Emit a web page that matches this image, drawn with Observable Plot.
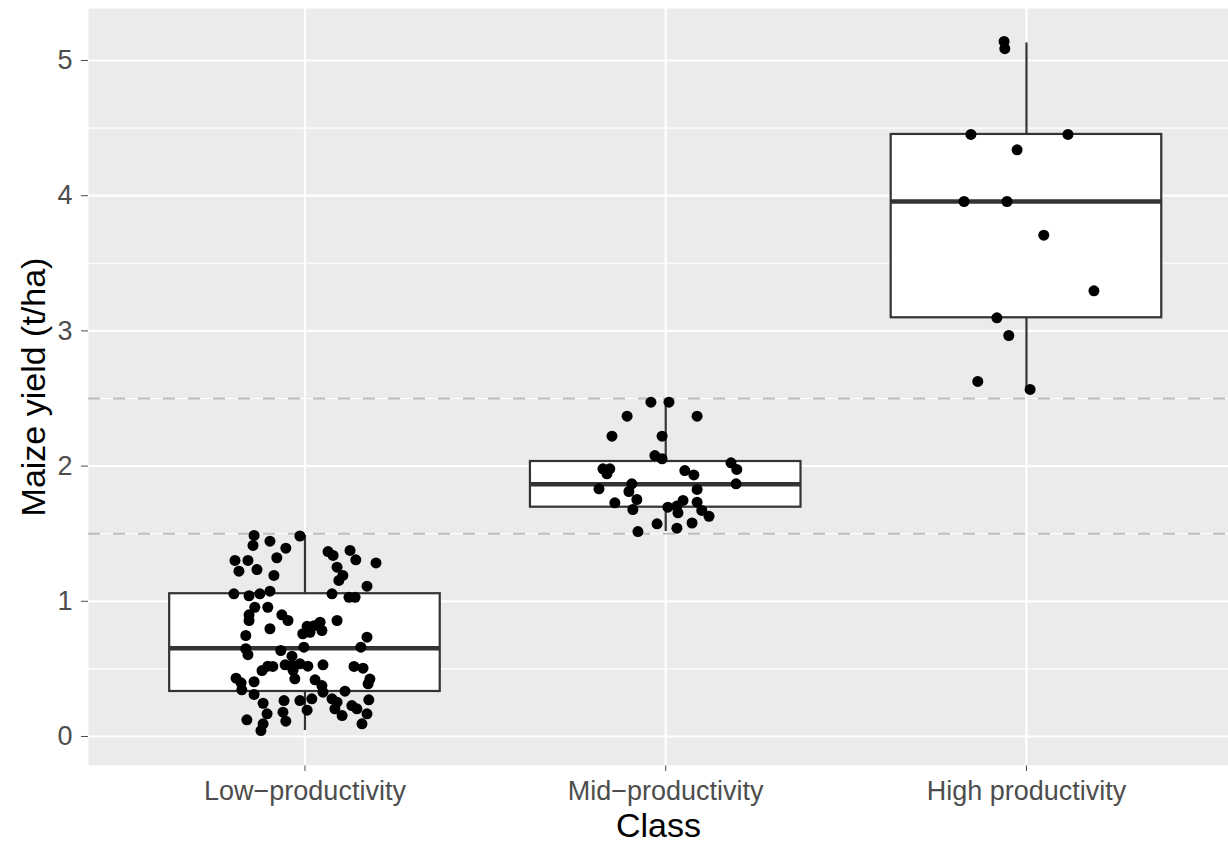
<!DOCTYPE html>
<html><head><meta charset="utf-8">
<script src="https://cdn.jsdelivr.net/npm/d3@7"></script>
<script src="https://cdn.jsdelivr.net/npm/@observablehq/plot@0.6"></script>
<style>body{margin:0;background:#fff;} #chart svg{display:block;}</style>
</head><body><div id="chart"></div>
<script>
const categories = ["Low−productivity", "Mid−productivity", "High productivity"];
const yTicks = [0, 1, 2, 3, 4, 5];
const yMinor = [0.5, 1.5, 2.5, 3.5, 4.5];
const refLines = [1.5, 2.5];

// box statistics (per category)
const boxLower  = [0.044, 1.516, 2.567];
const boxQ1     = [0.333, 1.696, 3.097];
const boxMedian = [0.653, 1.866, 3.957];
const boxQ3     = [1.056, 2.034, 4.453];
const boxUpper  = [1.487, 2.473, 5.130];

// observations (yield) and their horizontal jitter (category units)
const lowYield = [1.487,1.413,1.445,1.483,1.393,1.322,1.302,1.302,1.223,1.235,1.191,1.055,1.041,1.055,1.075,0.956,0.956,0.900,0.858,0.900,0.858,0.797,0.747,0.815,1.368,1.339,1.376,1.307,1.284,1.252,1.191,1.154,1.112,1.055,1.030,1.030,0.858,0.845,0.820,0.784,0.735,0.760,0.771,0.649,0.605,0.636,0.594,0.661,0.488,0.520,0.518,0.530,0.525,0.538,0.427,0.431,0.397,0.405,0.345,0.311,0.246,0.266,0.266,0.180,0.168,0.113,0.123,0.094,0.044,0.195,0.661,0.520,0.530,0.518,0.505,0.419,0.377,0.425,0.390,0.335,0.328,0.279,0.279,0.254,0.271,0.205,0.229,0.205,0.155,0.168,0.094,0.490];
const lowJitter = [-0.141,-0.144,-0.097,-0.014,-0.053,-0.078,-0.194,-0.158,-0.183,-0.133,-0.086,-0.197,-0.155,-0.125,-0.097,-0.139,-0.103,-0.155,-0.155,-0.064,-0.047,-0.097,-0.164,0.006,0.064,0.078,0.125,0.141,0.197,0.089,0.105,0.094,0.172,0.075,0.122,0.139,0.089,0.042,0.025,0.047,0.172,-0.006,0.014,-0.164,-0.158,-0.067,-0.036,-0.003,-0.119,-0.103,-0.089,-0.055,-0.036,-0.014,-0.028,-0.191,-0.177,-0.141,-0.175,-0.141,-0.116,-0.058,-0.014,-0.061,-0.105,-0.053,-0.161,-0.116,-0.122,0.006,0.155,0.008,0.050,0.136,0.161,0.028,0.047,0.180,0.175,0.111,0.050,0.019,0.075,0.089,0.177,0.083,0.130,0.144,0.103,0.172,0.158,-0.033];

const midYield = [2.473,2.473,2.369,2.369,2.221,2.221,2.078,2.054,2.024,1.975,1.980,1.980,1.943,1.967,1.935,1.869,1.869,1.832,1.812,1.827,1.753,1.728,1.679,1.696,1.704,1.746,1.733,1.654,1.672,1.629,1.573,1.579,1.541,1.516];
const midJitter = [-0.041,0.009,-0.107,0.087,-0.149,-0.010,-0.030,-0.010,0.181,0.197,-0.174,-0.155,-0.163,0.053,0.078,0.195,-0.094,-0.185,-0.102,0.087,-0.080,-0.141,-0.091,0.006,0.031,0.048,0.087,0.034,0.100,0.120,-0.024,0.073,0.031,-0.077];

const highYield = [5.141,5.087,4.453,4.453,4.339,3.957,3.957,3.708,3.296,3.097,2.966,2.626,2.567];
const highJitter = [-0.062,-0.060,-0.154,0.115,-0.026,-0.173,-0.054,0.048,0.187,-0.082,-0.049,-0.135,0.010];

// build tables
const boxes = categories.map((c, k) => ({
  i: k + 1, lower: boxLower[k], q1: boxQ1[k], median: boxMedian[k], q3: boxQ3[k], upper: boxUpper[k]
}));
const groups = [[lowYield, lowJitter], [midYield, midJitter], [highYield, highJitter]];
const points = groups.flatMap(([ys, js], k) => ys.map((y, n) => ({i: k + 1, jitter: js[n], yield: y})));

const halfWidth = 0.375;

const chart = Plot.plot({
  width: 1228,
  height: 845,
  marginLeft: 88,
  marginRight: 0,
  marginTop: 8,
  marginBottom: 80,
  style: {fontFamily: "'Liberation Sans', Arial, Helvetica, sans-serif", fontSize: "27px", color: "#4D4D4D", background: "white", overflow: "visible"},
  x: {type: "linear", domain: [0.4, 3.56], ticks: [1, 2, 3], tickFormat: d => categories[d - 1], tickSize: 6, tickPadding: 9, label: null},
  y: {domain: [-0.2145, 5.3845], ticks: yTicks, tickFormat: d => String(d), tickSize: 7, tickPadding: 9, label: null},
  marks: [
    Plot.frame({fill: "#EBEBEB", stroke: null}),
    Plot.ruleY(yMinor, {stroke: "white", strokeWidth: 1.1}),
    Plot.ruleY(yTicks, {stroke: "white", strokeWidth: 2.2}),
    Plot.ruleX([1, 2, 3], {stroke: "white", strokeWidth: 2.2}),
    Plot.ruleY(refLines, {stroke: "#BEBEBE", strokeWidth: 2, strokeDasharray: "12,13"}),
    Plot.ruleX(boxes, {x: "i", y1: "lower", y2: "q1", stroke: "#333333", strokeWidth: 2.2}),
    Plot.ruleX(boxes, {x: "i", y1: "q3", y2: "upper", stroke: "#333333", strokeWidth: 2.2}),
    Plot.rect(boxes, {x1: d => d.i - halfWidth, x2: d => d.i + halfWidth, y1: "q1", y2: "q3", fill: "white", stroke: "#333333", strokeWidth: 2.2}),
    Plot.ruleY(boxes, {x1: d => d.i - halfWidth, x2: d => d.i + halfWidth, y: "median", stroke: "#333333", strokeWidth: 4.5}),
    Plot.dot(points, {x: d => d.i + d.jitter, y: "yield", r: 5.5, fill: "black", stroke: null}),
    Plot.text(["Class"], {text: d => d, frameAnchor: "bottom", lineAnchor: "middle", dy: 61, fontSize: 34, fill: "black"}),
    Plot.text(["Maize yield (t/ha)"], {text: d => d, frameAnchor: "left", textAnchor: "middle", lineAnchor: "middle", dx: -54, rotate: -90, fontSize: 34, fill: "black"})
  ]
});
document.getElementById("chart").appendChild(chart);
</script>
</body></html>
